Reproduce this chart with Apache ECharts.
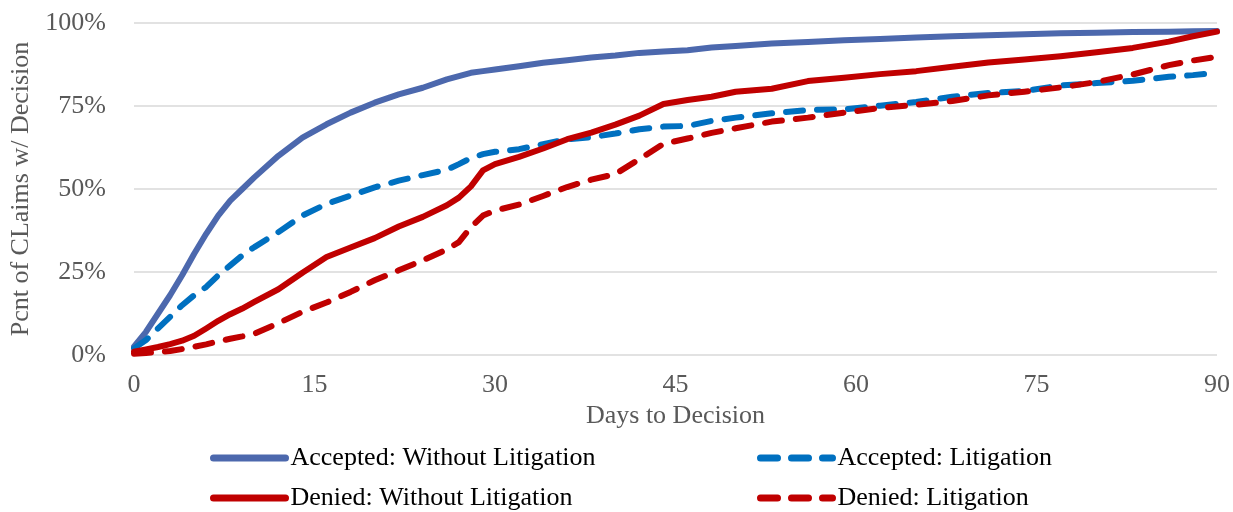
<!DOCTYPE html>
<html>
<head>
<meta charset="utf-8">
<script src="https://cdn.jsdelivr.net/npm/echarts@6.0.0/dist/echarts.min.js"></script>
<style>
  html, body { margin: 0; padding: 0; background: #fff; }
  #chart { width: 1233px; height: 512px; }
</style>
</head>
<body>
<div id="chart"></div>
<script>
// days to decision (x values shared by all series)
const days = [0, 1, 2, 3, 4, 5, 6, 7, 8, 9, 10, 12, 14, 16, 18, 20, 22, 24, 26, 27, 28, 29, 30,
  32, 34, 36, 38, 40, 42, 44, 46, 48, 50, 53, 56, 59, 62, 65, 68, 71, 74, 77, 80, 83, 86, 88, 90];

// percent of claims with decision
const acceptedWithout = [2.5, 7, 12.5, 18, 24, 30.5, 36.5, 42, 46.5, 50, 53.5, 60, 65.5, 69.5, 73, 76, 78.5, 80.5, 83, 84, 85, 85.5, 86,
  87, 88, 88.8, 89.6, 90.2, 91, 91.4, 91.8, 92.6, 93.1, 93.8, 94.3, 94.8, 95.2, 95.6, 96, 96.3, 96.6, 96.9, 97.1, 97.3, 97.4, 97.5, 97.6];
const acceptedLit = [2, 4.5, 8, 11.5, 15, 18, 20.5, 24, 27, 30, 32.5, 37, 42, 45.5, 48, 50.5, 52.5, 54.2, 55.8, 57.5, 59.3, 60.5, 61.2,
  62, 63.5, 65, 65.6, 66.7, 68, 68.8, 69, 70.5, 71.5, 72.8, 73.8, 74, 75.1, 76.2, 77.8, 78.9, 79.5, 81.2, 81.9, 82.6, 83.8, 84.3, 85];
const deniedWithout = [1, 1.7, 2.4, 3.3, 4.3, 5.8, 8, 10.3, 12.3, 14, 16, 19.8, 24.8, 29.5, 32.4, 35.2, 38.7, 41.6, 45.1, 47.4, 50.8, 55.6, 57.5,
  59.7, 62.2, 65, 67, 69.4, 72.1, 75.6, 76.8, 77.8, 79.3, 80.2, 82.5, 83.5, 84.6, 85.5, 86.8, 88.1, 89, 90, 91.2, 92.5, 94.4, 96, 97.4];
const deniedLit = [0.4, 0.6, 0.9, 1.2, 1.8, 2.5, 3.2, 4.1, 4.9, 5.6, 6.4, 9.6, 13, 15.8, 19, 22.5, 25.5, 28.5, 31.8, 34, 38.5, 42, 43.5,
  45.3, 47.9, 50.6, 52.8, 54.5, 59, 63.6, 65.2, 66.9, 68.3, 70.3, 71.5, 73, 74.4, 75.4, 76.5, 78.2, 79.3, 80.6, 82.2, 84.5, 87.3, 88.7, 89.8];

const xTicks = [0, 15, 30, 45, 60, 75, 90];
const yTicks = [0, 25, 50, 75, 100];

const font = '"Liberation Serif", "Times New Roman", serif';
const pairs = vals => days.map((d, i) => [d, vals[i]]);

function line(name, vals, color, dashed) {
  return {
    name: name,
    type: 'line',
    data: pairs(vals),
    symbol: 'none',
    lineStyle: { color: color, width: 6, type: dashed ? [17, 14] : 'solid', cap: 'round', join: 'round' },
    itemStyle: { color: color },
    emphasis: { disabled: true }
  };
}

// one legend per entry so each can sit where it does in the original
function legendAt(name, left, top) {
  return {
    left: left, top: top, padding: 0,
    itemWidth: 72, itemHeight: 14, itemGap: 0,
    lineStyle: { width: 7, cap: 'round' },
    itemStyle: { opacity: 0 },
    textStyle: { fontFamily: font, fontSize: 26, color: '#000' },
    data: [name]
  };
}

const chart = echarts.init(document.getElementById('chart'), null, { renderer: 'canvas' });
chart.setOption({
  animation: false,
  backgroundColor: '#fff',
  grid: { left: 134, right: 16, top: 23, bottom: 157, outerBoundsMode: 'none', containLabel: false },
  legend: [
    legendAt('Accepted: Without Litigation', 210, 445),
    legendAt('Denied: Without Litigation', 210, 485),
    legendAt('Accepted: Litigation', 757, 445),
    legendAt('Denied: Litigation', 757, 485)
  ],
  xAxis: {
    type: 'value', min: xTicks[0], max: xTicks[xTicks.length - 1], interval: 15,
    name: 'Days to Decision', nameLocation: 'middle', nameGap: 37,
    nameTextStyle: { fontFamily: font, fontSize: 26, color: '#595959' },
    axisLine: { show: false }, axisTick: { show: false },
    axisLabel: { fontFamily: font, fontSize: 26, color: '#595959', margin: 17 },
    splitLine: { show: false }
  },
  yAxis: {
    type: 'value', min: yTicks[0], max: yTicks[yTicks.length - 1], interval: 25,
    name: 'Pcnt of CLaims w/ Decision', nameLocation: 'middle', nameGap: 96,
    nameTextStyle: { fontFamily: font, fontSize: 26, color: '#595959' },
    axisLine: { show: false }, axisTick: { show: false },
    axisLabel: { fontFamily: font, fontSize: 26, color: '#595959', margin: 28, formatter: '{value}%' },
    splitLine: { lineStyle: { color: '#D9D9D9', width: 1.5 } }
  },
  series: [
    line('Accepted: Without Litigation', acceptedWithout, '#4C68AD', false),
    line('Accepted: Litigation', acceptedLit, '#0070C0', true),
    line('Denied: Without Litigation', deniedWithout, '#C00000', false),
    line('Denied: Litigation', deniedLit, '#C00000', true)
  ]
});
</script>
</body>
</html>
